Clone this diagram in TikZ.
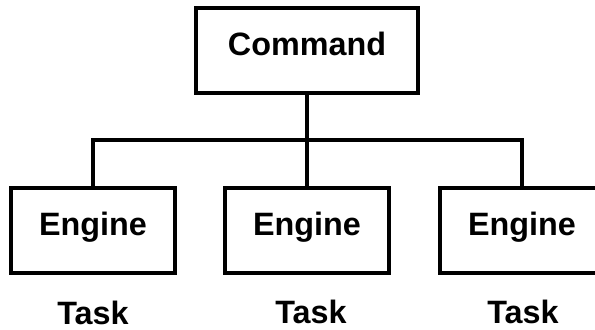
\documentclass[tikz,border=0pt]{standalone}
\usepackage{fontspec}
\setmainfont{Liberation Sans}
\usepackage{tikz}
\usetikzlibrary{positioning}
\tikzset{
  box/.style={draw,line width=2.85pt,inner sep=0pt,outer sep=0pt,minimum width=4.1cm,minimum height=2.125cm,text height=16.5pt,text depth=10pt,font=\fontsize{23}{27}\selectfont\bfseries},
  tasklabel/.style={anchor=base,inner sep=0pt,font=\fontsize{23}{27}\selectfont\bfseries}
}
\begin{document}
\begin{tikzpicture}[x=0.025cm,y=-0.025cm,line width=2.85pt]
\useasboundingbox (0,0) rectangle (595,330);
\clip (0,0) rectangle (595,330);
\node[box,minimum width=5.55cm](cmd) at (307,50.5){Command};
\node[box](eng1) at (93,230.5){Engine};
\node[box](eng2) at (307,230.5){Engine};
\node[box](eng3) at (522,230.5){Engine};
\coordinate(bus) at (307,140);
\draw(cmd.south)--(bus);
\draw(eng1.north)|-(bus)-|(eng3.north);
\draw(eng2.north)--(eng2.north|-bus);
\node[tasklabel](task1) at (93,324){Task};
\node[tasklabel](task2) at (311,323){Task};
\node[tasklabel](task3) at (523,323){Task};
\end{tikzpicture}
\end{document}
